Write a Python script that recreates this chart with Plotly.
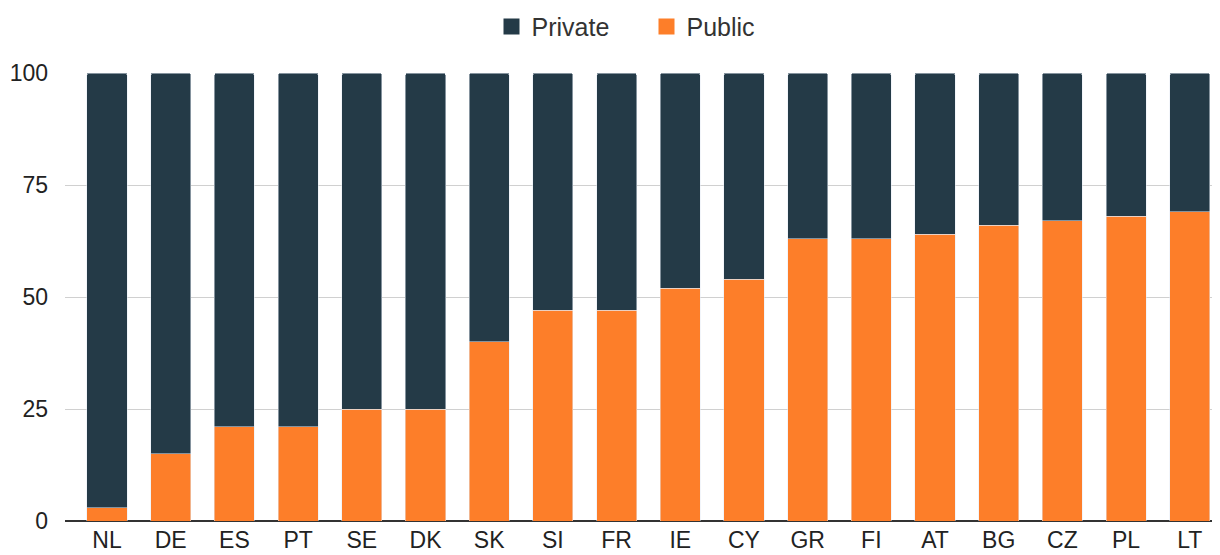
import plotly.graph_objects as go

countries = ["NL", "DE", "ES", "PT", "SE", "DK", "SK", "SI", "FR",
             "IE", "CY", "GR", "FI", "AT", "BG", "CZ", "PL", "LT"]
public = [3, 15, 21, 21, 25, 25, 40, 47, 47, 52, 54, 63, 63, 64, 66, 67, 68, 69]
private = [100 - v for v in public]

dark = "#243a47"
orange = "#fd7e29"

fig = go.Figure()
fig.add_trace(go.Bar(x=countries, y=public, name="Public", marker_color=orange, showlegend=False))
fig.add_trace(go.Bar(x=countries, y=private, name="Private", marker_color=dark, showlegend=False))

# legend entries with bigger square swatches
for name, col in [("Private", dark), ("Public", orange)]:
    fig.add_trace(go.Scatter(x=[None], y=[None], mode="markers", name=name,
                             marker=dict(symbol="square", size=24, color=col)))

fig.update_layout(
    width=1220, height=555,
    barmode="stack", bargap=0.37, barcornerradius=2,
    plot_bgcolor="white", paper_bgcolor="white",
    margin=dict(l=57, r=0, t=65, b=42, autoexpand=False),
    font=dict(family="Arial, Liberation Sans, sans-serif", size=23, color="#222"),
    legend=dict(orientation="h", x=0.5, xanchor="center", y=0.966, yanchor="middle",
                yref="container", font=dict(size=25, color="#333"), traceorder="normal",
                itemsizing="trace", entrywidth=110),
    showlegend=True,
)
fig.update_xaxes(range=[-0.66, 17.6], showgrid=False, ticks="", automargin=False,
                 ticklabelstandoff=3, tickfont=dict(size=23))
fig.update_yaxes(range=[0, 100], tickvals=[0, 25, 50, 75, 100], gridcolor="#d0d0d0",
                 gridwidth=1, zeroline=True, zerolinecolor="#333", zerolinewidth=2,
                 ticks="", ticklabelstandoff=16, automargin=False, tickfont=dict(size=23))

fig.write_html("out.html")
